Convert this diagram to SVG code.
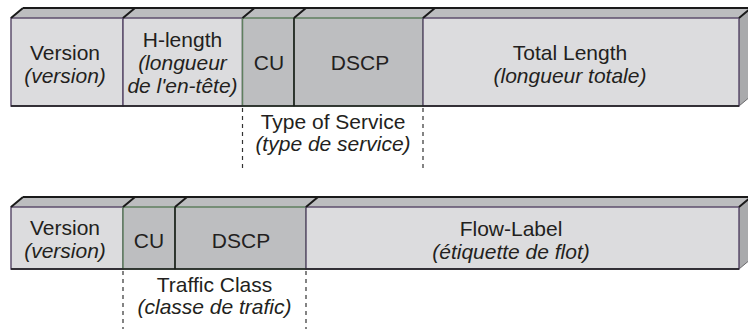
<svg xmlns="http://www.w3.org/2000/svg" width="748" height="329" viewBox="0 0 748 329">
<style>
  .t{font-family:"Liberation Sans",Arial,Helvetica,sans-serif;font-size:21px;fill:#231f20;text-anchor:middle}
  .i{font-style:italic}
  .top{fill:#bcbdbf}
  .side{fill:#a9aaac;stroke:#6a6a6c;stroke-width:1}
  .lt{fill:#dcdcde;stroke:#5e4f6e;stroke-width:1.5}
  .dk{fill:#bdbec0;stroke:#5f7f5f;stroke-width:1.5}
  .edge{stroke:#1a1a1a;stroke-width:2;fill:none}
  .div{stroke:#1a1a1a;stroke-width:1.5;fill:none}
  .dash{stroke:#333;stroke-width:1.2;stroke-dasharray:4 4;fill:none}
</style>
<!-- top row bevel -->
<polygon class="top" points="11,18 23,8 751,8 739,18"/>
<polygon class="side" points="739,18 751,8 751,96 739,106"/>
<g id="ipv4-version"><rect class="lt" x="11" y="18" width="112" height="88"/>
<text class="t" x="65" y="60">Version</text><text class="t i" x="65" y="83">(version)</text></g>
<g id="ipv4-hlength"><rect class="lt" x="123" y="18" width="119.5" height="88"/>
<text class="t" x="182.5" y="47">H-length</text><text class="t i" x="182.5" y="70">(longueur</text><text class="t i" x="182.5" y="93">de l'en-tête)</text></g>
<g id="ipv4-cu"><rect class="dk" x="242.5" y="18" width="51.5" height="88"/>
<text class="t" x="269" y="70">CU</text></g>
<g id="ipv4-dscp"><rect class="dk" x="294" y="18" width="129" height="88"/>
<text class="t" x="360" y="70">DSCP</text></g>
<g id="ipv4-total"><rect class="lt" x="423" y="18" width="316" height="88"/>
<text class="t" x="570" y="60">Total Length</text><text class="t i" x="570" y="83">(longueur totale)</text></g>
<line class="div" x1="294" y1="18" x2="294" y2="106"/>
<path class="edge" d="M23,8 H751 M11,18 L23,8 M123,18 L135,8 M242.5,18 L254.5,8 M294,18 L306,8 M423,18 L435,8 M739,18 L751,8"/>
<line class="div" x1="11" y1="106" x2="739" y2="106" stroke="#333"/>

<!-- bottom row bevel -->
<polygon class="top" points="11,207 23,197 751,197 739,207"/>
<polygon class="side" points="739,207 751,197 751,259 739,269"/>
<g id="ipv6-version"><rect class="lt" x="11" y="207" width="112" height="62"/>
<text class="t" x="65" y="235">Version</text><text class="t i" x="65" y="258">(version)</text></g>
<g id="ipv6-cu"><rect class="dk" x="123" y="207" width="52" height="62"/>
<text class="t" x="149" y="248">CU</text></g>
<g id="ipv6-dscp"><rect class="dk" x="175" y="207" width="131" height="62"/>
<text class="t" x="241" y="248">DSCP</text></g>
<g id="ipv6-flow"><rect class="lt" x="306" y="207" width="433" height="62"/>
<text class="t" x="511" y="236">Flow-Label</text><text class="t i" x="511" y="259">(étiquette de flot)</text></g>
<line class="div" x1="175" y1="207" x2="175" y2="269"/>
<path class="edge" d="M23,197 H751 M11,207 L23,197 M123,207 L135,197 M175,207 L187,197 M306,207 L318,197 M739,207 L751,197"/>
<line class="div" x1="11" y1="269" x2="739" y2="269" stroke="#333"/>

<g id="tos-label"><text class="t" x="333" y="129">Type of Service</text><text class="t i" x="333" y="151">(type de service)</text></g>
<g id="tc-label"><text class="t" x="214.5" y="292">Traffic Class</text><text class="t i" x="214.5" y="314">(classe de trafic)</text></g>

<g id="connectors">
  <line class="dash" x1="242.5" y1="108" x2="242.5" y2="168"/>
  <line class="dash" x1="423" y1="108" x2="423" y2="168"/>
  <line class="dash" x1="123" y1="271" x2="123" y2="329"/>
  <line class="dash" x1="306" y1="271" x2="306" y2="329"/>
</g>
</svg>
